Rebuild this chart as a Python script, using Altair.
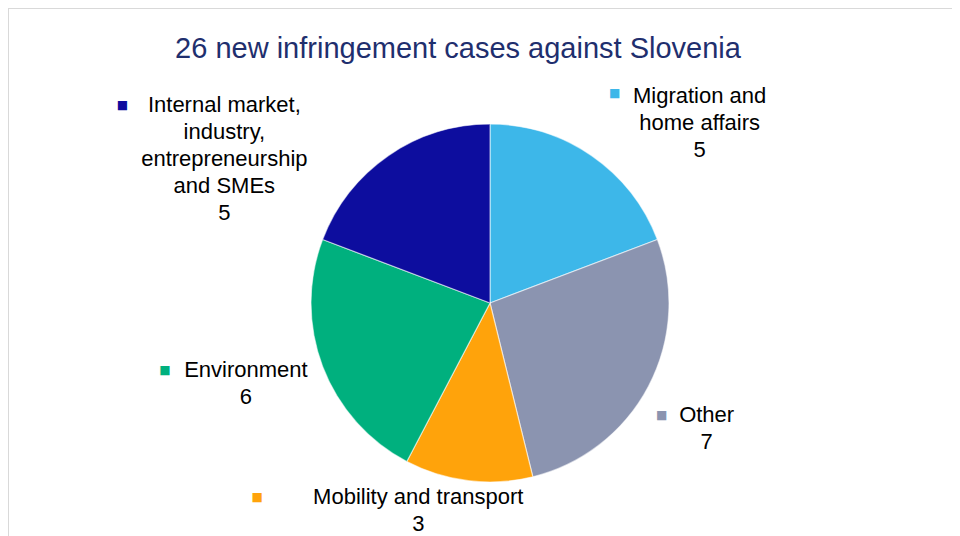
import altair as alt
import pandas as pd

# ---- data ----
categories = [
    "Migration and home affairs",
    "Other",
    "Mobility and transport",
    "Environment",
    "Internal market, industry, entrepreneurship and SMEs",
]
values = [5, 7, 3, 6, 5]
label_lines = [
    "Migration and\nhome affairs",
    "Other",
    "Mobility and transport",
    "Environment",
    "Internal market,\nindustry,\nentrepreneurship\nand SMEs",
]
colors = ["#3DB7E9", "#8B94B0", "#FFA30B", "#00B07E", "#0D0D9E"]
title_text = "26 new infringement cases against Slovenia"

df = pd.DataFrame({
    "idx": list(range(len(categories))),
    "category": categories,
    "value": values,
    "label": label_lines,
})

# ---- layout / style ----
W, H = 944, 528
CX, CY = 482, 295        # pie centre inside the view
R = 179                  # pie radius
LR = 230                 # anchor radius for labels
FONT = "Liberation Sans"

# offsets of the first text line from the label anchor
label_offsets = {
    categories[0]: (79, -18),
    categories[1]: (13, 5),
    categories[2]: (-44, -34),
    categories[3]: (-29, -15),
    categories[4]: (-135, -9),
}
marker_offsets = {
    categories[0]: (-6, -21),
    categories[1]: (-32, 5),
    categories[2]: (-205, -34),
    categories[3]: (-110, -15),
    categories[4]: (-237, -9),
}

base = (
    alt.Chart(df)
    .transform_window(cum="sum(value)", sort=[alt.SortField("idx")], frame=[None, 0])
    .transform_joinaggregate(total="sum(value)")
    .transform_calculate(
        start="(datum.cum - datum.value) / datum.total",
        end="datum.cum / datum.total",
        mid="(datum.cum - datum.value / 2) / datum.total",
        full="datum.label + '\\n' + datum.value",
    )
)

theta_scale = alt.Scale(domain=[0, 1], range=[0, 6.283185307179586])
color_scale = alt.Scale(domain=categories, range=colors)

pie = base.mark_arc(radius=R, stroke="white", strokeWidth=1.2, strokeOpacity=0.55).encode(
    theta=alt.Theta("start:Q", scale=theta_scale, stack=False),
    theta2="end:Q",
    color=alt.Color("category:N", scale=color_scale, legend=None),
    order=alt.Order("idx:Q"),
    x=alt.value(CX),
    y=alt.value(CY),
)

layers = [pie]
for cat in categories:
    dx, dy = label_offsets[cat]
    layers.append(
        base.transform_filter(alt.datum.category == cat)
        .mark_text(
            radius=LR, dx=dx, dy=dy, font=FONT, fontSize=22, lineHeight=27,
            lineBreak="\n", align="center", baseline="middle", color="#000000",
        )
        .encode(
            theta=alt.Theta("mid:Q", scale=theta_scale, stack=False),
            text="full:N",
            x=alt.value(CX),
            y=alt.value(CY),
        )
    )
    mdx, mdy = marker_offsets[cat]
    layers.append(
        base.transform_filter(alt.datum.category == cat)
        .transform_calculate(sq="'\u25A0'")
        .mark_text(
            radius=LR, dx=mdx, dy=mdy, font="DejaVu Sans", fontSize=12,
            align="center", baseline="middle",
        )
        .encode(
            theta=alt.Theta("mid:Q", scale=theta_scale, stack=False),
            text="sq:N",
            color=alt.Color("category:N", scale=color_scale, legend=None),
            x=alt.value(CX),
            y=alt.value(CY),
        )
    )

frame_df = pd.DataFrame({"t": [title_text]})
title = alt.Chart(frame_df).mark_text(
    font=FONT, fontSize=29, color="#1F2F6E", align="center", baseline="middle"
).encode(text="t:N", x=alt.value(450), y=alt.value(41))

left_edge = alt.Chart(frame_df).mark_rule(color="#D9D9D9", strokeWidth=2).encode(
    x=alt.value(0), y=alt.value(0), y2=alt.value(H)
)
top_edge = alt.Chart(frame_df).mark_rule(color="#D9D9D9", strokeWidth=2).encode(
    x=alt.value(0), x2=alt.value(W), y=alt.value(0)
)

chart = (
    alt.layer(left_edge, top_edge, *layers, title)
    .properties(
        width=W,
        height=H,
        padding=0,
        autosize=alt.AutoSizeParams(type="none"),
    )
    .configure_view(strokeWidth=0)
    .configure(background="white")
)

chart.save("out.html", embed_options={"renderer": "svg", "actions": False})
